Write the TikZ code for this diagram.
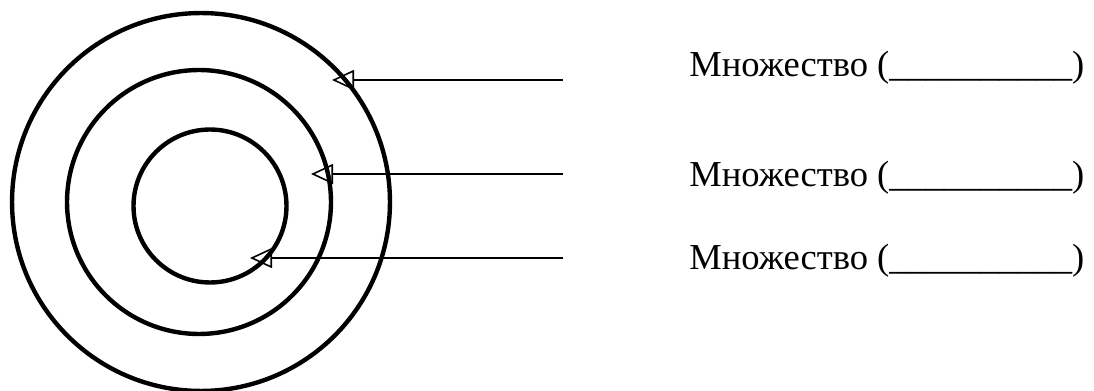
\documentclass[tikz,border=0pt]{standalone}
\usepackage{fontspec}
\setmainfont{Liberation Serif}
\usetikzlibrary{arrows.meta}
\tikzset{
  ring/.style={circle, draw=black, line width=2.5pt, inner sep=0pt},
  setlabel/.style={anchor=base west, inner sep=0pt, font=\fontsize{20.8}{24}\selectfont},
  setarrow/.style={{Triangle[open, length=0.44cm, width=0.4cm, line width=0.9pt]}-, line width=1.3pt}
}
\begin{document}
\begin{tikzpicture}[x=0.02cm, y=-0.02cm]
\useasboundingbox (0,0) rectangle (1094,391);
\node[ring, minimum size=7.56cm] (outer) at (201,202) {};
\node[ring, minimum size=5.28cm] (middle) at (199,202) {};
\node[ring, minimum size=3.06cm] (inner) at (210,206) {};
% targets inside the rings
\coordinate (t1) at (332,80);
\coordinate (t2) at (311,174);
\coordinate (t3) at (250,258);
\coordinate (s1) at (563,80);
\coordinate (s2) at (563,174);
\coordinate (s3) at (563,258);
\node[setlabel] (lab1) at (689,77) {Множество (\_\_\_\_\_\_\_\_\_\_)};
\node[setlabel] (lab2) at (689,187) {Множество (\_\_\_\_\_\_\_\_\_\_)};
\node[setlabel] (lab3) at (689,270) {Множество (\_\_\_\_\_\_\_\_\_\_)};
\draw[setarrow] (t1) -- (s1);
\draw[setarrow] (t2) -- (s2);
\draw[setarrow] (t3) -- (s3);
\end{tikzpicture}
\end{document}
